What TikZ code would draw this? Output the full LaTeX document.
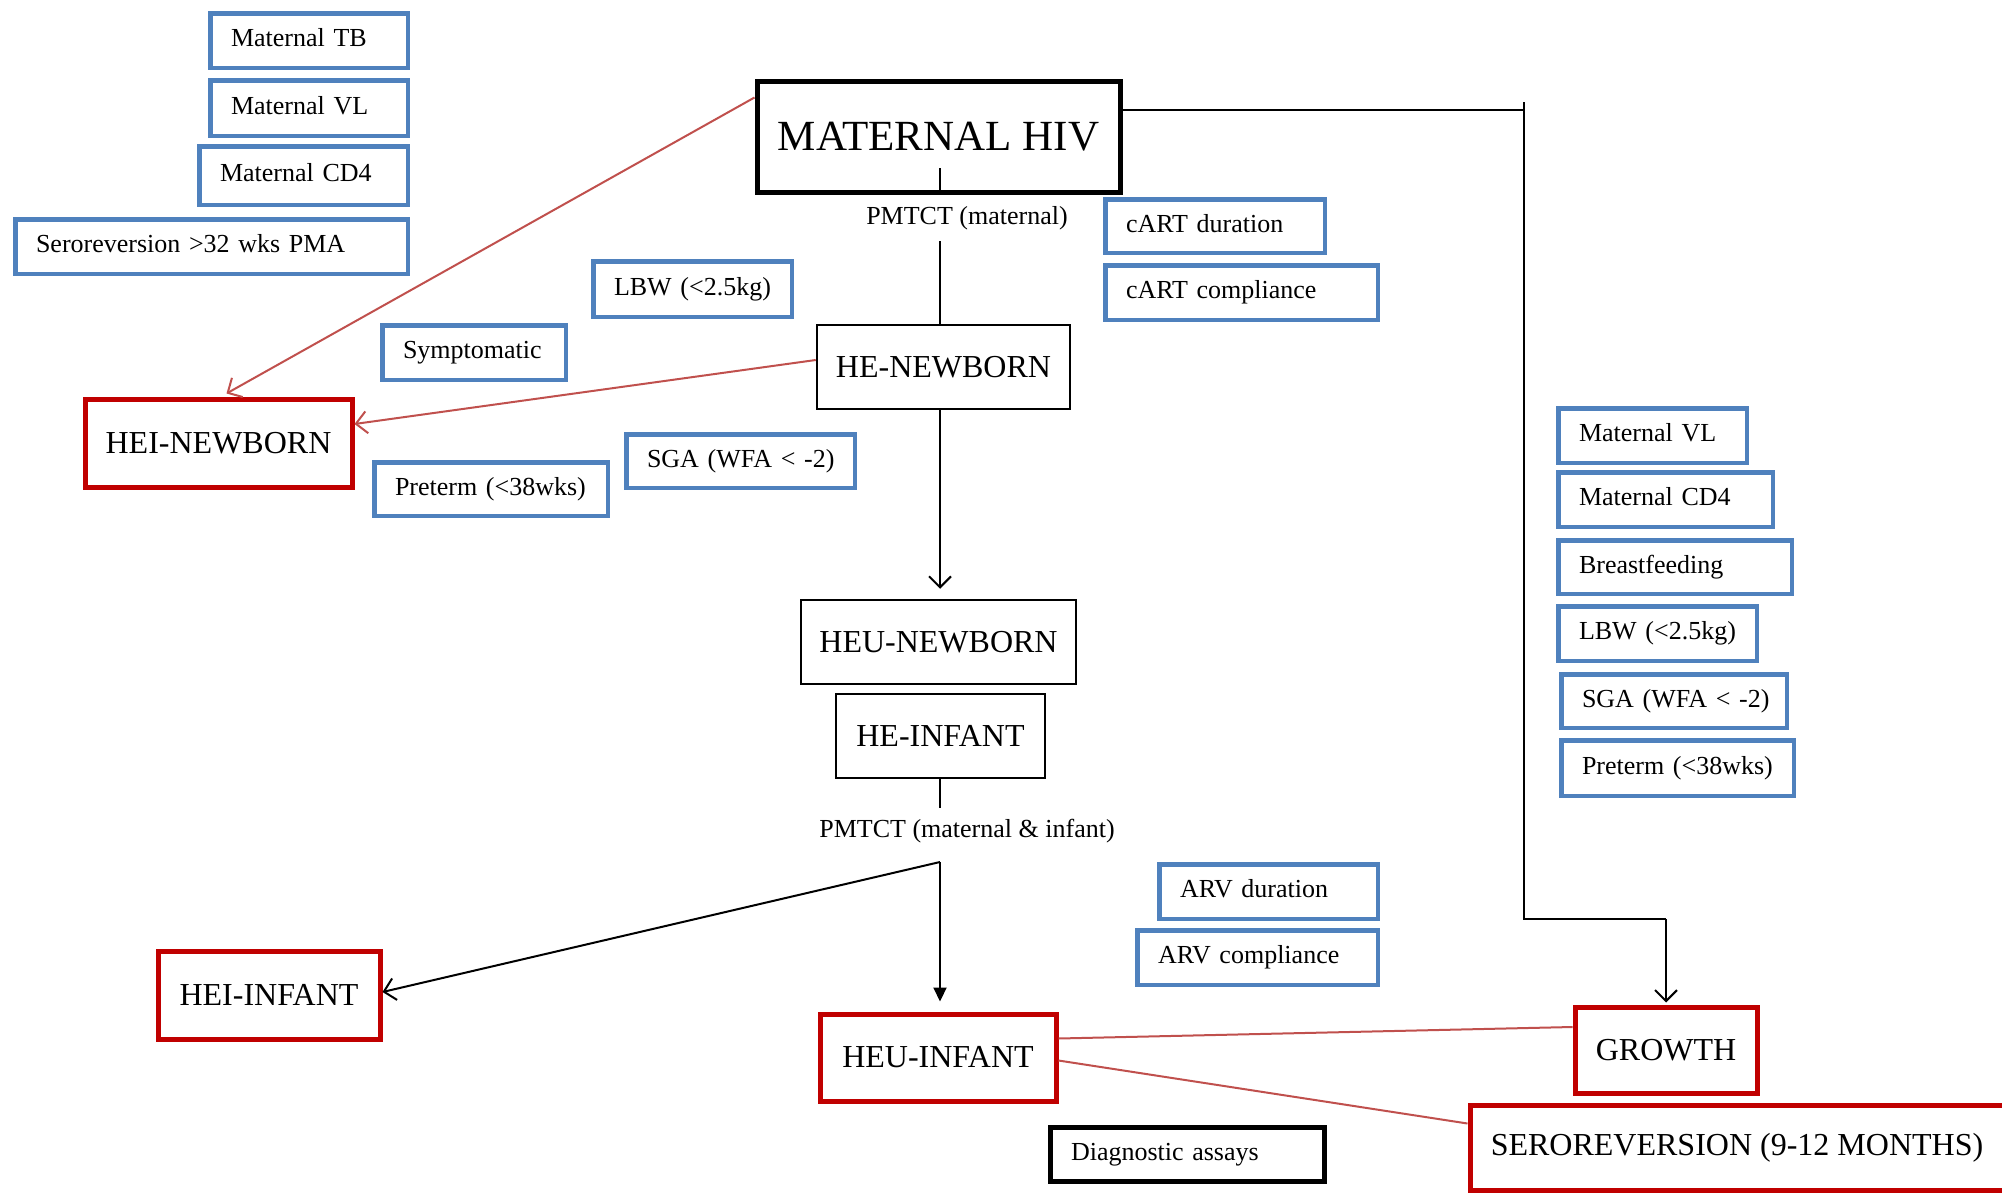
\documentclass[tikz,border=0pt]{standalone}
\usepackage{fontspec}
\setmainfont{Liberation Serif}
\usetikzlibrary{arrows.meta,calc}
\definecolor{bblue}{RGB}{79,129,189}
\definecolor{bred}{RGB}{192,0,0}
\definecolor{lred}{RGB}{192,80,77}
\newcommand\ftxs{\fontsize{26}{30}\selectfont}
\newcommand\ftxb{\fontsize{32}{38}\selectfont}
\newcommand\ftxh{\fontsize{43}{50}\selectfont}
% centred box: style, name, x1, y1, x2, y2, text
\newcommand\cbox[7]{%
 \pgfmathsetmacro\bw{#5-#3-4}\pgfmathsetmacro\bh{#6-#4-4}%
 \node[#1, minimum width=\bw pt, minimum height=\bh pt] (#2) at ({(#3+#5)/2},{(#4+#6)/2}) {#7};}
% left aligned box: style, name, x1, y1, x2, y2, text
\newcommand\lbox[7]{%
 \pgfmathsetmacro\bw{#5-#3-4.5}\pgfmathsetmacro\bh{#6-#4-4.5}\pgfmathsetmacro\tw{#5-#3-4.5-41.5}%
 \node[#1, minimum width=\bw pt, minimum height=\bh pt, text width=\tw pt] (#2) at ({(#3+#5)/2},{(#4+#6)/2}) {\mbox{#7}};}
\tikzset{
 bluebox/.style={draw=bblue, line width=4.5pt, inner xsep=20.75pt, inner ysep=0pt, align=left, font=\ftxs, text height=18pt, text depth=6pt},
 diagbox/.style={draw=black, line width=5pt, inner xsep=20.75pt, inner ysep=0pt, align=left, font=\ftxs, text height=18pt, text depth=6pt},
 redbox/.style={draw=bred, line width=5pt, font=\ftxb, align=center, inner sep=0pt},
 hivbox/.style={draw=black, line width=5pt, font=\ftxh, align=center, inner sep=0pt},
 thinbox/.style={draw=black, line width=2.5pt, font=\ftxb, align=center, inner sep=0pt},
 lbl/.style={font=\ftxs, inner sep=0pt, minimum height=46pt},
 conn/.style={line width=2pt, draw=black},
 rconn/.style={line width=2pt, draw=lred},
 openarr/.style={-{Straight Barb[length=11pt,width=22pt]}},
 fillarr/.style={-{Triangle[length=14pt,width=13pt]}}
}
\begin{document}
\begin{tikzpicture}[x=1pt,y=-1pt]
\useasboundingbox (0,0) rectangle (2002,1194);
\clip (0,0) rectangle (2002,1194);
% left blue factors
\lbox{bluebox}{mtb}{208}{11}{410}{70}{Maternal TB}
\lbox{bluebox}{mvl}{208}{78}{410}{138}{Maternal VL}
\lbox{bluebox}{mcd}{197}{144}{410}{207}{Maternal CD4}
\lbox{bluebox}{sero}{13}{217}{410}{276}{Seroreversion >32 wks PMA}
\lbox{bluebox}{lbwa}{591}{259}{794}{319}{LBW (<2.5kg)}
\lbox{bluebox}{sym}{380}{323}{568}{382}{Symptomatic}
\lbox{bluebox}{sgaa}{624}{432}{857}{490}{SGA (WFA < -2)}
\lbox{bluebox}{prea}{372}{460}{610}{518}{Preterm (<38wks)}
\lbox{bluebox}{cartd}{1103}{197}{1327}{255}{cART duration}
\lbox{bluebox}{cartc}{1103}{263}{1380}{322}{cART compliance}
\lbox{bluebox}{arvd}{1157}{862}{1380}{921}{ARV duration}
\lbox{bluebox}{arvc}{1135}{928}{1380}{987}{ARV compliance}
% right blue factors
\lbox{bluebox}{rvl}{1556}{406}{1749}{465}{Maternal VL}
\lbox{bluebox}{rcd}{1556}{470}{1775}{529}{Maternal CD4}
\lbox{bluebox}{rbf}{1556}{538}{1794}{596}{Breastfeeding}
\lbox{bluebox}{rlbw}{1556}{604}{1759}{663}{LBW (<2.5kg)}
\lbox{bluebox}{rsga}{1559}{672}{1789}{730}{SGA (WFA < -2)}
\lbox{bluebox}{rpre}{1559}{738}{1796}{798}{Preterm (<38wks)}
\lbox{diagbox}{diag}{1048}{1125}{1327}{1184}{Diagnostic assays}
% main nodes
\cbox{hivbox}{hiv}{755}{79}{1122}{194}{MATERNAL HIV}
\cbox{thinbox}{henb}{815}{323}{1072}{411}{HE-NEWBORN}
\cbox{redbox}{heinb}{83}{397}{354}{489}{HEI-NEWBORN}
\cbox{thinbox}{heunb}{799}{598}{1078}{686}{HEU-NEWBORN}
\cbox{thinbox}{heinf}{834}{692}{1047}{780}{HE-INFANT}
\cbox{redbox}{heiinf}{156}{949}{382}{1041}{HEI-INFANT}
\cbox{redbox}{heuinf}{818}{1012}{1058}{1103}{HEU-INFANT}
\cbox{redbox}{growth}{1573}{1005}{1759}{1095}{GROWTH}
\cbox{redbox}{sero2}{1468}{1103}{2006}{1192}{SEROREVERSION (9-12 MONTHS)}
\node[lbl] (pm1) at (967,218) {PMTCT (maternal)};
\node[lbl] (pm2) at (967,831) {PMTCT (maternal \& infant)};
% coordinates
\coordinate (hin) at (940,168);
\coordinate (c0) at (1524,102);
\coordinate (c1) at (1524,110);
\coordinate (c2) at (1524,919);
\coordinate (split) at (940,862);
% connectors
\draw[conn] (hin) -- (hin |- pm1.north);
\draw[conn] (hin |- pm1.south) -- (hin |- henb.north);
\draw[conn, openarr] (henb.south -| hin) -- ([yshift=10pt]heunb.north -| hin);
\draw[conn] (heinf.south -| hin) -- (pm2.north -| hin);
\draw[conn, openarr] (split) -- ([yshift=3pt]heiinf.east);
\draw[conn, fillarr] (split) -- ([yshift=10pt]heuinf.north -| split);
\draw[conn] (hiv.east |- c1) -- (c1) -- (c2) -- (c2 -| growth.north);
\draw[conn] (c0) -- (c1);
\draw[conn, openarr] (c2 -| growth.north) -- ([yshift=2pt]growth.north);
\draw[rconn, openarr] ([yshift=-19pt]hiv.north west) -- ([xshift=8pt,yshift=3pt]heinb.north);
\draw[rconn, openarr] ([yshift=7pt]henb.west) -- ([yshift=19pt]heinb.east);
\draw[rconn] ([yshift=19pt]heuinf.east) -- ([yshift=23pt]growth.west);
\draw[rconn] ([yshift=-3pt]heuinf.east) -- ([yshift=-21pt]sero2.north west);
\end{tikzpicture}
\end{document}
